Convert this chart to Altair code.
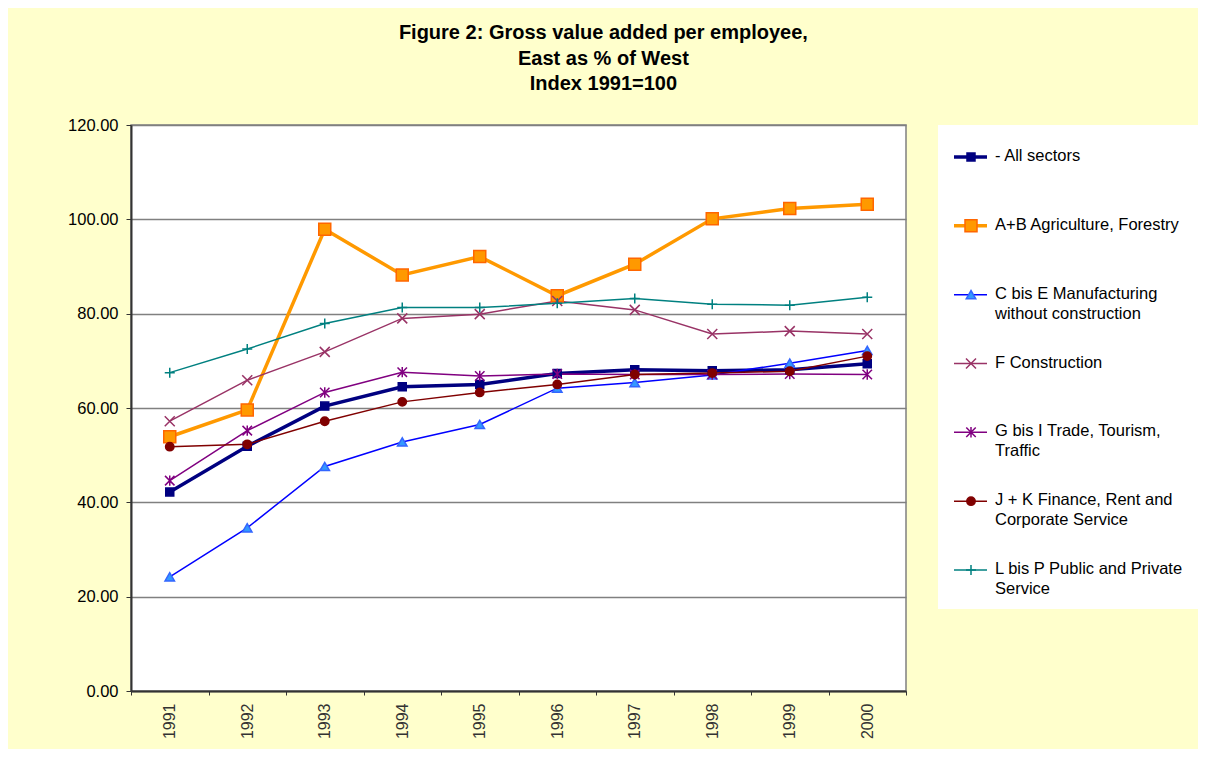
import altair as alt
import pandas as pd

years = ["1991", "1992", "1993", "1994", "1995", "1996", "1997", "1998", "1999", "2000"]

all_sectors   = [42.2, 51.9, 60.4, 64.5, 65.0, 67.3, 68.1, 67.9, 68.1, 69.4]
agriculture   = [53.9, 59.6, 97.9, 88.2, 92.1, 83.8, 90.5, 100.1, 102.3, 103.2]
manufacturing = [24.2, 34.6, 47.6, 52.8, 56.5, 64.2, 65.4, 67.0, 69.5, 72.2]
construction  = [57.2, 65.9, 71.9, 79.0, 79.9, 82.7, 80.8, 75.7, 76.3, 75.7]
trade         = [44.6, 55.2, 63.3, 67.6, 66.8, 67.2, 67.1, 67.1, 67.2, 67.1]
finance       = [51.8, 52.3, 57.2, 61.3, 63.3, 65.0, 67.1, 67.4, 67.8, 71.0]
public        = [67.5, 72.5, 77.9, 81.3, 81.3, 82.2, 83.2, 82.0, 81.8, 83.5]

series_keys = ["all", "agri", "manu", "constr", "trade", "fin", "pub"]
series_labels = [
    "- All sectors",
    "A+B Agriculture, Forestry",
    "C bis E Manufacturing\nwithout construction",
    "F Construction",
    "G bis I Trade, Tourism,\nTraffic",
    "J + K Finance, Rent and\nCorporate Service",
    "L bis P Public and Private\nService",
]
series_values = [all_sectors, agriculture, manufacturing, construction, trade, finance, public]

# styles
line_colors = ["#000080", "#FF9900", "#0000FF", "#993366", "#800080", "#800000", "#008080"]
line_widths = [3.5, 3.5, 1.5, 1.5, 1.5, 1.5, 1.5]
marker_fill = ["#000080", "#FF9900", "#3399FF", "transparent", "transparent", "#800000", "transparent"]
marker_stroke = ["#000080", "#FF6600", "#3366FF", "#993366", "#800080", "#800000", "#008080"]
marker_shapes = [
    "square",
    "square",
    "triangle-up",
    "M-1,-1L1,1M-1,1L1,-1",
    "M-1,-1L1,1M-1,1L1,-1M0,-1.1L0,1.1",
    "circle",
    "M-1,0L1,0M0,-1L0,1",
]
marker_sizes = [64, 144, 90, 100, 90, 70, 100]
legend_marker_sizes = [40, 90, 50, 110, 60, 60, 110]

rows = []
for key, vals in zip(series_keys, series_values):
    for y, v in zip(years, vals):
        rows.append({"series": key, "year": y, "value": v})
df = pd.DataFrame(rows)

legend_df = pd.DataFrame({"series": series_keys, "label": series_labels})

FONT = "Liberation Sans"


def oscale(rng):
    return alt.Scale(type="ordinal", domain=series_keys, range=rng)


color_enc = alt.Color("series:N", scale=alt.Scale(domain=series_keys, range=line_colors), legend=None)
sw_enc = alt.StrokeWidth("series:N", scale=oscale(line_widths), legend=None)
shape_enc = alt.Shape("series:N", scale=alt.Scale(domain=series_keys, range=marker_shapes), legend=None)
fill_enc = alt.Fill("series:N", scale=alt.Scale(domain=series_keys, range=marker_fill), legend=None)
stroke_enc = alt.Stroke("series:N", scale=alt.Scale(domain=series_keys, range=marker_stroke), legend=None)
size_enc = alt.Size("series:N", scale=oscale(marker_sizes), legend=None)

x_enc = alt.X(
    "year:O",
    title=None,
    scale=alt.Scale(type="band", paddingInner=0, paddingOuter=0),
    axis=alt.Axis(
        tickBand="extent",
        labelAngle=-90,
        labelFontSize=16,
        labelFont=FONT,
        labelColor="#333333",
        labelPadding=8,
        tickSize=4,
        tickColor="#333333",
        domainColor="#333333",
        domainWidth=2,
        grid=False,
    ),
)
y_enc = alt.Y(
    "value:Q",
    title=None,
    scale=alt.Scale(domain=[0, 120], nice=False),
    axis=alt.Axis(
        values=[0, 20, 40, 60, 80, 100, 120],
        format=".2f",
        labelFontSize=16.5,
        labelFont=FONT,
        labelColor="#000000",
        labelPadding=8,
        tickSize=5,
        tickColor="#333333",
        domainColor="#333333",
        domainWidth=2,
        grid=True,
        gridColor="#808080",
        gridWidth=1.5,
    ),
)

base = alt.Chart(df)
lines = base.mark_line().encode(x=x_enc, y=y_enc, color=color_enc, strokeWidth=sw_enc, order=alt.Order("year:O"))
points = base.mark_point(opacity=1, strokeWidth=1.5).encode(
    x="year:O", y="value:Q", shape=shape_enc, fill=fill_enc, stroke=stroke_enc, size=size_enc
)

main = alt.layer(lines, points).properties(
    width=775,
    height=566,
    view=alt.ViewBackground(fill="white", stroke="#808080", strokeWidth=1.5),
)

leg_y = alt.Y(
    "series:N",
    axis=None,
    scale=alt.Scale(type="point", domain=series_keys, range=[32, 445], padding=0),
)
lbase = alt.Chart(legend_df)
leg_rule = lbase.mark_rule().encode(
    x=alt.value(16), x2=alt.value(49), y=leg_y, color=color_enc, strokeWidth=sw_enc
)
leg_pts = lbase.mark_point(opacity=1, strokeWidth=1.5).encode(
    x=alt.value(33), y=leg_y, shape=shape_enc, fill=fill_enc, stroke=stroke_enc,
    size=alt.Size("series:N", scale=oscale(legend_marker_sizes), legend=None),
)
leg_text = lbase.mark_text(
    align="left", baseline="top", dy=-9, fontSize=16.5, font=FONT, lineBreak="\n", lineHeight=20, color="#000000"
).encode(x=alt.value(57), y=leg_y, text="label:N")

legend = alt.layer(leg_rule, leg_pts, leg_text).properties(
    width=260,
    height=484,
    view=alt.ViewBackground(fill="white", strokeWidth=0),
)

chart = (
    alt.hconcat(main, legend, spacing=30)
    .resolve_scale(x="independent", y="independent")
    .properties(
        title=alt.TitleParams(
            text=["Figure 2: Gross value added per employee,", "East as % of West", "Index 1991=100"],
            font=FONT,
            fontSize=20,
            fontWeight="bold",
            color="#000000",
            lineHeight=25.5,
            anchor="middle",
            dx=-29,
            offset=22,
        ),
        padding={"left": 58, "top": 15, "right": 0, "bottom": 9},
        background="#FFFFCC",
    )
)

chart.save("out.html", embed_options={"renderer": "svg", "actions": False})
